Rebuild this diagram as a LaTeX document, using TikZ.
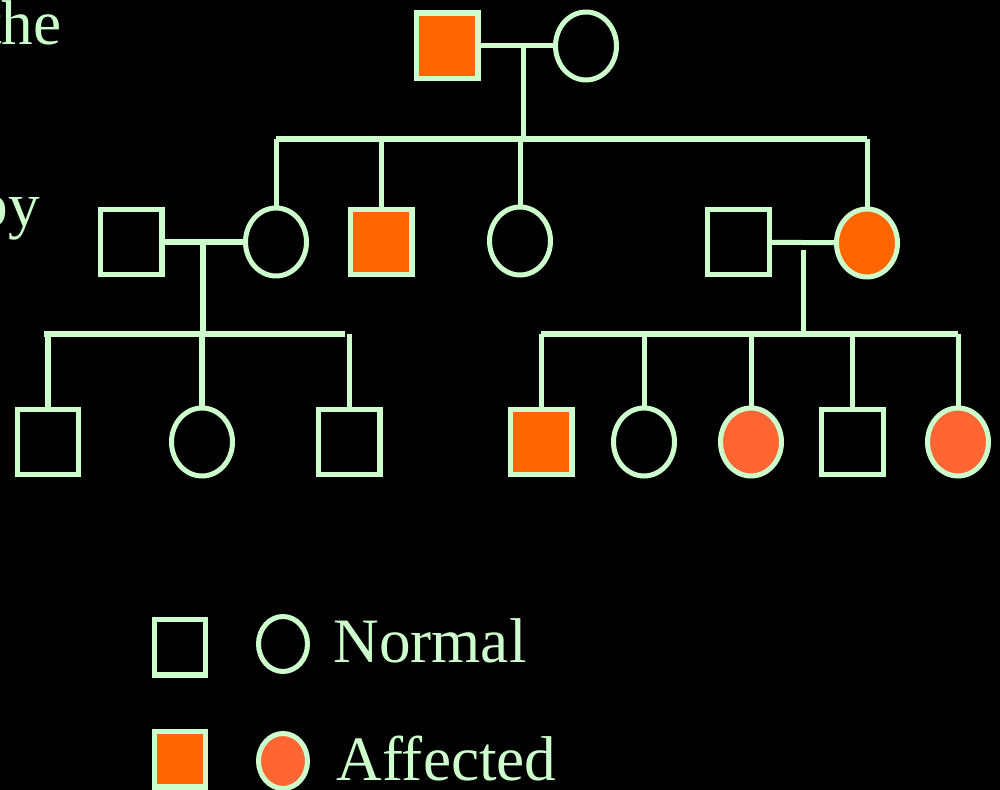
\documentclass[tikz,border=0pt]{standalone}
\usepackage{fontspec}
\setmainfont{Liberation Serif}
\usepackage{tikz}
\usetikzlibrary{positioning,shapes.geometric}
\definecolor{pale}{HTML}{CCFFCC}
\definecolor{sick}{HTML}{FF6600}
\definecolor{sicklt}{HTML}{FF6633}
\def\SqWidth{1.24cm}
\def\SqHeight{1.32cm}
\def\LineW{2.85pt}
\tikzset{
	male/.style={rectangle, draw=pale, line width=\LineW, minimum width=\SqWidth, minimum height=\SqHeight, inner sep=0pt},
	female/.style={ellipse, draw=pale, line width=\LineW, minimum width=1.22cm, minimum height=1.36cm, inner sep=0pt},
	aff/.style={fill=sick},
	afflt/.style={fill=sicklt},
	keysq/.style={minimum width=1.02cm, minimum height=1.12cm},
	keyci/.style={minimum width=0.98cm, minimum height=1.1cm},
	link/.style={draw=pale, line width=\LineW},
	lbl/.style={text=pale, font=\fontsize{36}{40}\selectfont, inner sep=0pt},
}

\begin{document}
\begin{tikzpicture}[x=0.02cm,y=-0.02cm]
	\useasboundingbox (0,0) rectangle (1000,790);
	\clip (0,0) rectangle (1000,790);
	\fill[black] (0,0) rectangle (1000,790);
	% slide text cut off at the left
	\node[lbl, anchor=base east] (wthe) at (62,45) {the};
	\node[lbl, anchor=base east] (wby) at (40,227) {by};
	% generation I
	\node[male,aff] (Ia) at (447,46) {};
	\node[female] (Ib) at (586,46) {};
	% generation II
	\node[male] (IIa) at (131,242) {};
	\node[female] (IIb) at (276,242) {};
	\node[male,aff] (IIc) at (381,242) {};
	\node[female] (IId) at (520,241) {};
	\node[male] (IIe) at (738,242) {};
	\node[female,aff] (IIf) at (867,243) {};
	% generation III
	\node[male] (IIIa) at (48,442) {};
	\node[female] (IIIb) at (202,442) {};
	\node[male] (IIIc) at (349,442) {};
	\node[male,aff] (IIId) at (541,442) {};
	\node[female] (IIIe) at (644,442) {};
	\node[female,afflt] (IIIf) at (751,442) {};
	\node[male] (IIIg) at (852,442) {};
	\node[female,afflt] (IIIh) at (958,442) {};
	% couples and sibships
	\coordinate (mI) at (523,46);
	\coordinate (sI) at (523,139);
	\coordinate (mL) at (203,242);
	\coordinate (sL) at (203,334);
	\coordinate (mR) at (803,250);
	\coordinate (sR) at (803,334);
	\draw[link] (Ia) -- (Ib);
	\draw[link] (mI) -- (sI);
	\draw[link] (IIb |- sI) -- (IIf |- sI);
	\foreach \kid in {IIb,IIc,IId,IIf}
		\draw[link] (\kid |- sI) -- (\kid.north);
	\draw[link] (IIa) -- (IIb);
	\draw[link] (mL) -- (sL);
	\draw[link] ([xshift=-2]IIIa |- sL) -- ([xshift=-2]IIIc |- sL);
	\foreach \kid in {IIIa,IIIb,IIIc}
		\draw[link] (\kid |- sL) -- (\kid.north);
	\draw[link] (IIe) -- (IIf);
	\draw[link] (mR) -- (sR);
	\draw[link] (IIId |- sR) -- (IIIh |- sR);
	\foreach \kid in {IIId,IIIe,IIIf,IIIg,IIIh}
		\draw[link] (\kid |- sR) -- (\kid.north);
	% key
	\node[male,keysq] (keyM) at (180,647) {};
	\node[female,keyci] (keyF) at (283,644) {};
	\node[lbl, anchor=base west] (keyN) at (333,662) {Normal};
	\node[male,keysq,aff] (keyMa) at (180,759) {};
	\node[female,keyci,afflt] (keyFa) at (283,761) {};
	\node[lbl, anchor=base west] (keyA) at (336,780) {Affected};
\end{tikzpicture}
\end{document}
